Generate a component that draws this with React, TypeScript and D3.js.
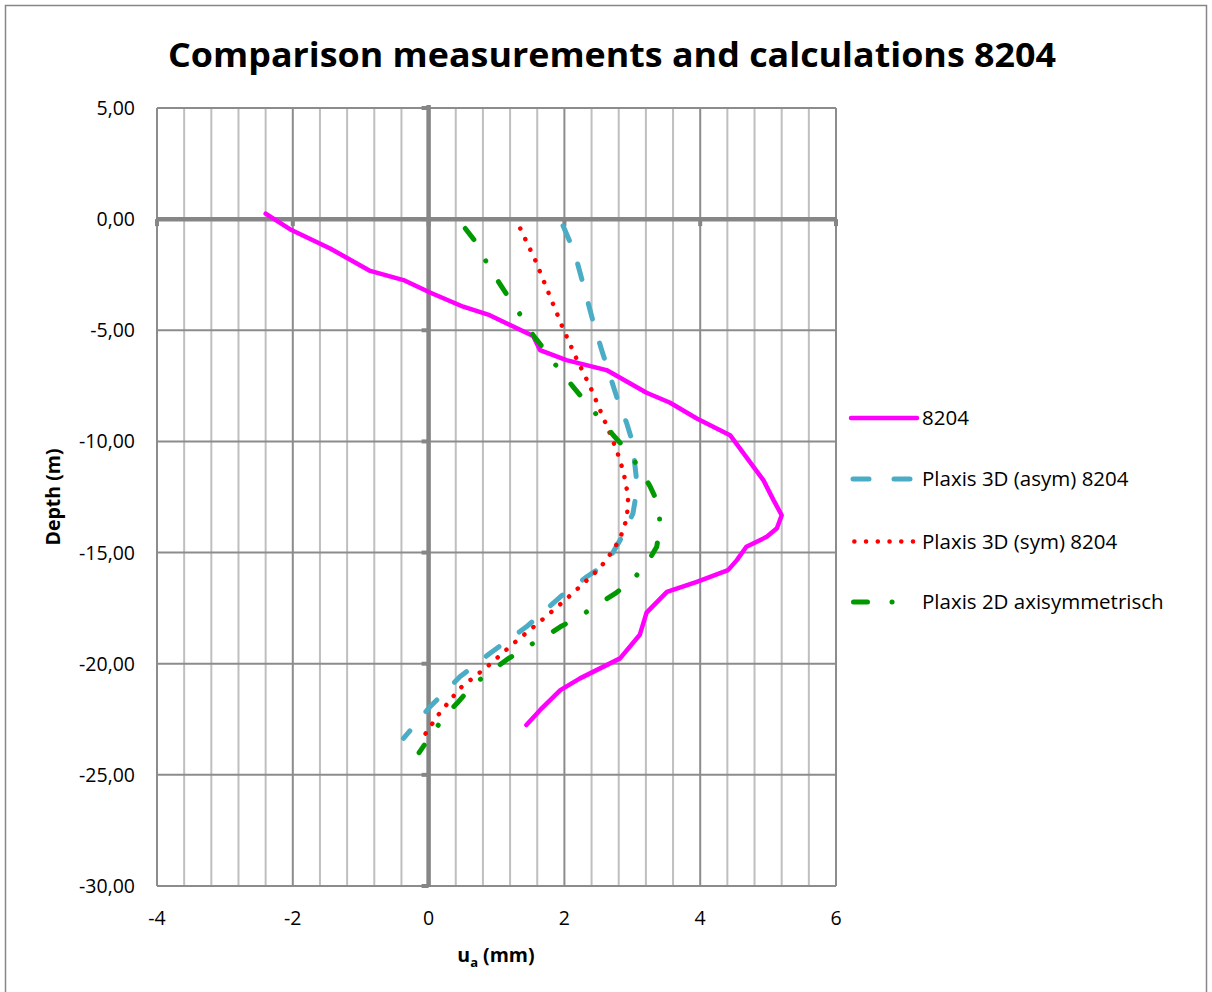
import React from "react";
import * as d3 from "d3";

const xTicks = [-4, -2, 0, 2, 4, 6];
const yTicks = [5, 0, -5, -10, -15, -20, -25, -30];

const meas8204: [number, number][] = [
  [-2.40, 0.25], [-2.02, -0.49], [-1.45, -1.32], [-0.86, -2.33], [-0.37, -2.74], [0.02, -3.30],
  [0.51, -3.94], [0.90, -4.32], [1.54, -5.26], [1.64, -5.89], [2.03, -6.34], [2.62, -6.79],
  [3.21, -7.81], [3.55, -8.25], [3.95, -8.97], [4.44, -9.72], [4.93, -11.74], [5.08, -12.64],
  [5.20, -13.32], [5.13, -13.91], [4.98, -14.29], [4.68, -14.74], [4.54, -15.34], [4.41, -15.79],
  [3.95, -16.32], [3.51, -16.77], [3.21, -17.70], [3.11, -18.70], [2.82, -19.76], [2.23, -20.66],
  [1.94, -21.19], [1.64, -22.09], [1.44, -22.76],
];

const plaxis3DAsym: [number, number][] = [
  [1.98, -0.30], [2.15, -1.50], [2.28, -2.97], [2.43, -4.69], [2.55, -5.90], [2.77, -7.99],
  [2.92, -9.20], [3.00, -10.00], [3.06, -11.66], [3.05, -12.50], [3.01, -13.24], [2.82, -14.44],
  [2.62, -15.49], [2.33, -16.09], [1.94, -16.99], [1.44, -18.34], [0.90, -19.54], [0.46, -20.59],
  [0.02, -21.94], [-0.37, -23.36],
];

const plaxis3DSym: [number, number][] = [
  [1.35, -0.42], [1.57, -1.84], [1.76, -3.27], [1.96, -4.77], [2.16, -6.16], [2.38, -7.54],
  [2.65, -9.49], [2.77, -10.39], [2.87, -11.37], [2.94, -12.49], [2.92, -13.46], [2.82, -14.36],
  [2.72, -14.89], [2.52, -15.71], [2.28, -16.39], [2.01, -17.14], [1.64, -18.11], [1.25, -19.09],
  [0.86, -20.14], [0.46, -21.11], [0.14, -22.31], [-0.05, -23.17],
];

const plaxis2DAxi: [number, number][] = [
  [0.54, -0.42], [0.71, -1.09], [0.86, -1.99], [1.03, -2.82], [1.19, -3.57], [1.37, -4.39],
  [1.54, -5.22], [1.71, -5.89], [1.91, -6.72], [2.12, -7.51], [2.29, -8.14], [2.50, -8.89],
  [2.72, -9.72], [2.90, -10.33], [3.09, -11.14], [3.26, -12.01], [3.38, -12.79], [3.41, -13.77],
  [3.36, -14.74], [3.21, -15.52], [3.00, -16.24], [2.75, -16.84], [2.50, -17.32], [2.23, -17.86],
  [1.94, -18.34], [1.71, -18.79], [1.42, -19.29], [1.14, -19.84], [0.93, -20.32], [0.66, -20.93],
  [0.44, -21.71], [0.26, -22.27], [0.06, -23.11], [-0.14, -24.00],
];

const seriesNames = ["8204", "Plaxis 3D (asym) 8204", "Plaxis 3D (sym) 8204", "Plaxis 2D axisymmetrisch"];

const FONT = "'Open Sans', 'Noto Sans', sans-serif";

export default function App() {
  const x = d3.scaleLinear().domain([-4, 6]).range([157, 836]);
  const y = d3.scaleLinear().domain([-30, 5]).range([886, 108]);
  const line = d3.line<[number, number]>().x((d) => x(d[0])).y((d) => y(d[1]));

  const minorX = d3.range(-4, 6.001, 0.4).filter((v) => Math.abs(v / 2 - Math.round(v / 2)) > 1e-6);
  const fmt = (v: number) => v.toFixed(2).replace(".", ",");

  const styles = [
    { color: "#FF00FF", dash: undefined as string | undefined, width: 4.5 },
    { color: "#4BACC6", dash: "16 25", width: 5 },
    { color: "#FF0000", dash: "0.1 11.63", width: 4.5 },
    { color: "#009A00", dash: "14 24.5 0.1 24.2", width: 5 },
  ];
  const data = [meas8204, plaxis3DAsym, plaxis3DSym, plaxis2DAxi];
  const legendY = [418, 479, 541.5, 602];
  const legendDash = [undefined, "16 25", "0.1 11.63", "14 24.5 0.1 100"];
  const legendX = [[851, 917], [853, 910], [854.3, 913], [853.5, 895]];

  return (
    <svg width={1212} height={992} style={{ display: "block", position: "absolute", left: 0, top: 0 }}>
      <rect x={0} y={0} width={1212} height={992} fill="#ffffff" />
      <rect x={5.5} y={5.5} width={1201} height={1000} fill="none" stroke="#868686" strokeWidth={1.5} />
      <text x={612} y={67} textAnchor="middle" fontFamily={FONT} fontWeight="bold" fontSize={34}
        textLength={888} lengthAdjust="spacingAndGlyphs" fill="#000">
        Comparison measurements and calculations 8204
      </text>

      {/* minor vertical gridlines */}
      {minorX.map((v) => (
        <line key={"mx" + v} x1={x(v)} x2={x(v)} y1={y(5)} y2={y(-30)} stroke="#BFBFBF" strokeWidth={2} />
      ))}
      {/* major vertical gridlines */}
      {xTicks.map((v) => (
        <line key={"Mx" + v} x1={x(v)} x2={x(v)} y1={y(5)} y2={y(-30)} stroke="#8C8C8C" strokeWidth={2} />
      ))}
      {/* horizontal gridlines */}
      {yTicks.map((v) => (
        <line key={"My" + v} x1={x(-4)} x2={x(6)} y1={y(v)} y2={y(v)} stroke="#8C8C8C" strokeWidth={2} />
      ))}
      {/* axes */}
      <line x1={x(-4) - 1} x2={x(6) + 1} y1={y(0)} y2={y(0)} stroke="#868686" strokeWidth={4.5} />
      <line x1={x(0)} x2={x(0)} y1={y(5) - 3} y2={y(-30) + 1} stroke="#868686" strokeWidth={4.5} />
      {/* tick marks */}
      {yTicks.map((v) => (
        <line key={"ty" + v} x1={x(0) - 7} x2={x(0)} y1={y(v)} y2={y(v)} stroke="#868686" strokeWidth={4} />
      ))}
      {xTicks.map((v) => (
        <line key={"tx" + v} x1={x(v)} x2={x(v)} y1={y(0)} y2={y(0) + 7} stroke="#868686" strokeWidth={4} />
      ))}

      {/* tick labels */}
      {yTicks.map((v) => (
        <text key={"ly" + v} x={135} y={y(v) + 7} textAnchor="end" fontFamily={FONT} fontSize={19.5} fill="#000">
          {fmt(v)}
        </text>
      ))}
      {xTicks.map((v) => (
        <text key={"lx" + v} x={x(v)} y={925} textAnchor="middle" fontFamily={FONT} fontSize={19.5} fill="#000">
          {String(v)}
        </text>
      ))}

      {/* axis titles */}
      <text x={496} y={962} textAnchor="middle" fontFamily={FONT} fontWeight="bold" fontSize={19.5} fill="#000">
        u<tspan fontSize={13} dy={5}>a</tspan><tspan dy={-5}> (mm)</tspan>
      </text>
      <text transform={`translate(60,497) rotate(-90)`} textAnchor="middle" fontFamily={FONT}
        fontWeight="bold" fontSize={19.5} fill="#000">
        Depth (m)
      </text>

      {/* series */}
      {data.map((d, i) => (
        <path key={"s" + i} d={line(d) || ""} fill="none" stroke={styles[i].color} strokeWidth={styles[i].width}
          strokeDasharray={styles[i].dash} strokeLinecap="round" strokeLinejoin="round" />
      ))}

      {/* legend */}
      {seriesNames.map((name, i) => (
        <g key={"lg" + i}>
          <line x1={legendX[i][0]} x2={legendX[i][1]} y1={legendY[i]} y2={legendY[i]} stroke={styles[i].color}
            strokeWidth={styles[i].width} strokeDasharray={legendDash[i]} strokeLinecap="round" />
          <text x={922} y={legendY[i] + 7} fontFamily={FONT} fontSize={20.5} fill="#000">{name}</text>
        </g>
      ))}
    </svg>
  );
}
